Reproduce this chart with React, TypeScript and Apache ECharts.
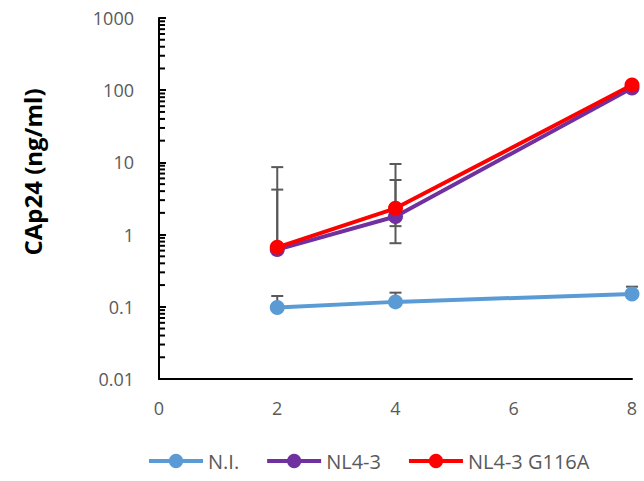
import React, { useEffect, useRef } from "react";
import * as echarts from "echarts";

const xValues = [2, 4, 8];
const seriesNames = ["N.I.", "NL4-3", "NL4-3 G116A"];
const niValues = [0.098, 0.117, 0.15];
const nl43Values = [0.62, 1.78, 107];
const g116aValues = [0.667, 2.31, 118];
const seriesColors = ["#5B9BD5", "#7030A0", "#FF0000"];

// error bars: [x, mean, end]
const errorUpper = [
  [2, 0.098, 0.141],
  [4, 0.117, 0.157],
  [8, 0.15, 0.19],
  [2, 0.62, 4.2],
  [4, 1.78, 5.7],
  [2, 0.667, 8.6],
  [4, 2.31, 9.5],
];
const errorLower = [
  [4, 1.78, 1.31],
  [4, 2.31, 0.76],
];

const xTicks = [0, 2, 4, 6, 8];
const yMin = 0.01;
const yMax = 1000;
const yDecades = [0.01, 0.1, 1, 10, 100];
const yMinorFactors = [2, 3, 4, 5, 6, 7, 8, 9];

const FONT = "'Open Sans', 'Liberation Sans', sans-serif";

export default function App() {
  const ref = useRef<HTMLDivElement>(null);
  useEffect(() => {
    if (!ref.current) return;
    const chart = echarts.init(ref.current, null, { renderer: "svg" });
    const minorTicks: number[][] = [];
    yDecades.forEach((d) => yMinorFactors.forEach((f) => minorTicks.push([0, d * f])));

    const lineData = [niValues, nl43Values, g116aValues];
    const errRender = (params: any, api: any) => {
      const x = api.value(0);
      const from = api.value(1);
      const to = api.value(2);
      const p0 = api.coord([x, from]);
      const p1 = api.coord([x, to]);
      const style = { stroke: "#595959", lineWidth: 2 };
      return {
        type: "group",
        children: [
          { type: "line", shape: { x1: p0[0], y1: p0[1], x2: p1[0], y2: p1[1] }, style },
          { type: "line", shape: { x1: p1[0] - 6, y1: p1[1], x2: p1[0] + 6, y2: p1[1] }, style },
        ],
      };
    };

    chart.setOption({
      animation: false,
      backgroundColor: "#ffffff",
      grid: { left: 159, right: 12, top: 18, bottom: 102, containLabel: false },
      legend: {
        data: seriesNames,
        left: 147,
        top: 451,
        padding: 0,
        itemWidth: 54,
        itemHeight: 18,
        itemGap: 26,
        lineStyle: { width: 4 },
        textStyle: { color: "#595959", fontSize: 20, fontFamily: FONT },
      },
      graphic: [
        {
          type: "text",
          x: 32,
          y: 172,
          rotation: Math.PI / 2,
          style: {
            text: "CAp24 (ng/ml)",
            fill: "#000000",
            font: `bold 24px ${FONT}`,
            textAlign: "center",
            textVerticalAlign: "middle",
          },
        },
      ],
      xAxis: {
        type: "value",
        min: xTicks[0],
        max: xTicks[xTicks.length - 1],
        interval: 2,
        axisLine: { show: true, lineStyle: { color: "#000000", width: 2 } },
        axisTick: { show: false },
        splitLine: { show: false },
        axisLabel: { color: "#595959", fontSize: 18, fontFamily: FONT, margin: 20 },
      },
      yAxis: {
        type: "log",
        logBase: 10,
        min: yMin,
        max: yMax,
        axisLine: { show: true, lineStyle: { color: "#000000", width: 2 } },
        axisTick: { show: true, inside: true, length: 7, lineStyle: { color: "#000000", width: 2 } },
        splitLine: { show: false },
        axisLabel: {
          color: "#595959",
          fontSize: 18,
          fontFamily: FONT,
          margin: 25,
          formatter: (v: number) => String(+Number(v).toPrecision(2)),
        },
      },
      series: [
        {
          type: "custom",
          name: "minorTicks",
          data: minorTicks,
          silent: true,
          z: 1,
          renderItem: (params: any, api: any) => {
            const p = api.coord([api.value(0), api.value(1)]);
            return {
              type: "line",
              shape: { x1: p[0], y1: p[1], x2: p[0] + 6, y2: p[1] },
              style: { stroke: "#000000", lineWidth: 2 },
            };
          },
        },
        {
          type: "custom",
          name: "errUp",
          data: errorUpper,
          encode: { x: 0, y: [1, 2] },
          silent: true,
          z: 1,
          renderItem: errRender,
        },
        {
          type: "custom",
          name: "errLow",
          data: errorLower,
          encode: { x: 0, y: [1, 2] },
          silent: true,
          z: 1,
          renderItem: errRender,
        },
        ...seriesNames.map((name, i) => ({
          type: "line",
          name,
          data: xValues.map((x, j) => [x, lineData[i][j]]),
          color: seriesColors[i],
          symbol: "circle",
          symbolSize: 15,
          z: 3 + i,
          lineStyle: { width: 4, color: seriesColors[i] },
          itemStyle: { color: seriesColors[i] },
        })),
      ],
    });
    return () => chart.dispose();
  }, []);
  return <div ref={ref} style={{ width: 644, height: 481, position: "absolute", left: 0, top: 0 }} />;
}
